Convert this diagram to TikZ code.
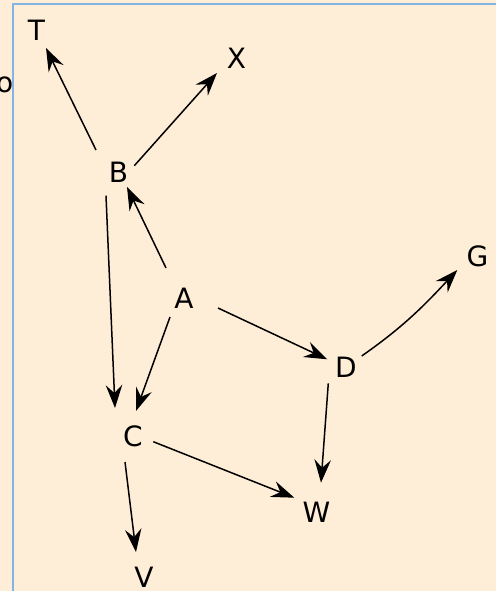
\documentclass[tikz,border=0pt]{standalone}
\usepackage{fontspec}
\setmainfont{DejaVu Sans}
\usetikzlibrary{arrows.meta,calc}
\definecolor{paper}{HTML}{FFEED7}
\definecolor{frameblue}{HTML}{82B4E6}
\tikzset{
  lbl/.style={inner sep=0pt, font=\fontsize{28}{30}\selectfont},
  edge/.style={line width=1.5pt, -{Stealth[length=23pt,width=16.5pt,inset=8pt]}},
}
\begin{document}
\begin{tikzpicture}[x=1pt, y=-1pt]
  % canvas and frame
  \fill[paper] (0,0) rectangle (496,591);
  \useasboundingbox (0,0) rectangle (496,591);
  \draw[frameblue, line width=1.5pt] (13,591) -- (13,4) -- (496,4);

  % labels
  \node[lbl, anchor=east] (o) at (13.5,85) {o};
  \node[lbl] (T) at (36.5,30) {T};
  \node[lbl] (X) at (236.5,58.5) {X};
  \node[lbl] (B) at (118.5,172.5) {B};
  \node[lbl] (A) at (184,298) {A};
  \node[lbl] (G) at (477.5,256.5) {G};
  \node[lbl] (D) at (346,367.5) {D};
  \node[lbl] (C) at (133,436) {C};
  \node[lbl] (W) at (316.5,512.5) {W};
  \node[lbl] (V) at (144,577) {V};

  % connectors, each leaving and entering its label at a fixed offset
  \draw[edge] ($(B)+(-22.5,-22.5)$) -- ($(T)+(9.5,18)$);
  \draw[edge] ($(B)+(15.8,-6.8)$) -- ($(X)+(-19.5,14.5)$);
  \draw[edge] ($(B)+(-12.5,23.2)$) -- ($(C)+(-18,-28)$);
  \draw[edge] ($(A)+(-18,-30)$) -- ($(B)+(8.5,14.5)$);
  \draw[edge] ($(A)+(-14,19)$) -- ($(C)+(3,-25)$);
  \draw[edge] ($(A)+(34,10)$) -- ($(D)+(-18.7,-8.2)$);
  \draw[edge] ($(D)+(15.7,-11.5)$) to[out=35, in=-133] ($(G)+(-20.2,13.5)$);
  \draw[edge] ($(D)+(-17.7,15.8)$) -- ($(W)+(4.5,-29.8)$);
  \draw[edge] ($(C)+(-8,26)$) -- ($(V)+(-8,-25)$);
  \draw[edge] ($(C)+(20.3,5.7)$) -- ($(W)+(-22.2,-14.8)$);
\end{tikzpicture}
\end{document}
